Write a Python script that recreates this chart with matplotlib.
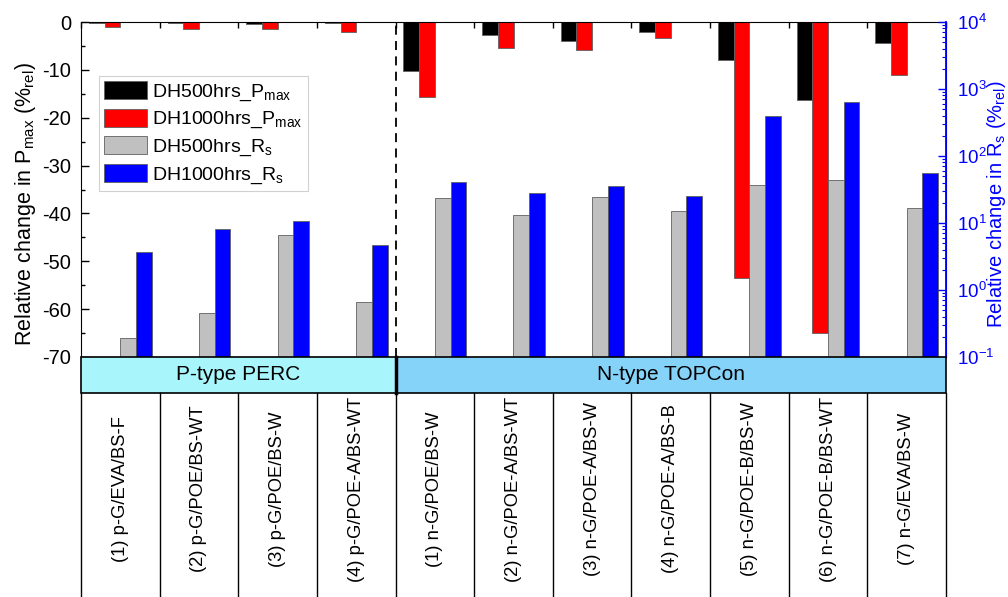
import numpy as np
import matplotlib as mpl
import matplotlib.pyplot as plt
import matplotlib.patches as ptc

mpl.rcParams["font.family"] = ["Liberation Sans", "DejaVu Sans"]
mpl.rcParams["mathtext.fontset"] = "custom"
mpl.rcParams["mathtext.rm"] = "Liberation Sans"
mpl.rcParams["mathtext.it"] = "Liberation Sans:italic"
mpl.rcParams["mathtext.bf"] = "Liberation Sans:bold"
mpl.rcParams["axes.unicode_minus"] = False

# data
labels = ["(1) p-G/EVA/BS-F", "(2) p-G/POE/BS-WT", "(3) p-G/POE/BS-W",
          "(4) p-G/POE-A/BS-WT", "(1) n-G/POE/BS-W", "(2) n-G/POE-A/BS-WT",
          "(3) n-G/POE-A/BS-W", "(4) n-G/POE-A/BS-B", "(5) n-G/POE-B/BS-W",
          "(6) n-G/POE-B/BS-WT", "(7) n-G/EVA/BS-W"]
groups = ["P-type PERC", "N-type TOPCon"]
group_sizes = [4, 7]

pmax_500 = [-0.2, -0.3, -0.4, -0.3, -10.2, -2.7, -4.0, -2.0, -8.0, -16.2, -4.3]
pmax_1000 = [-1.0, -1.5, -1.5, -2.0, -15.6, -5.4, -5.9, -3.4, -53.4, -65.0, -11.0]
rs_500 = [0.195, 0.45, 6.6, 0.66, 23.4, 13.3, 24.5, 15.3, 37.5, 44.2, 16.8]
rs_1000 = [3.7, 8.2, 10.7, 4.7, 40.6, 28.4, 35.9, 25.7, 396, 630, 56]

W, H = 1008, 597
L, R, T, B = 81, 946, 22, 357  # axes box in pixels

fig = plt.figure(figsize=(W / 100, H / 100), dpi=100)
ax = fig.add_axes([L / W, 1 - B / H, (R - L) / W, (B - T) / H])
ax2 = ax.twinx()

x = np.arange(len(labels))
w = 0.2
edge = dict(edgecolor="#606060", linewidth=0.6)

b1 = ax.bar(x - 1.5 * w, pmax_500, w, color="black", label="DH500hrs_P$_{\\mathrm{max}}$", **edge)
b2 = ax.bar(x - 0.5 * w, pmax_1000, w, color="#ff0000", label="DH1000hrs_P$_{\\mathrm{max}}$", **edge)
b3 = ax2.bar(x + 0.5 * w, np.array(rs_500) - 0.1, w, bottom=0.1, color="#c0c0c0",
             label="DH500hrs_R$_{\\mathrm{s}}$", **edge)
b4 = ax2.bar(x + 1.5 * w, np.array(rs_1000) - 0.1, w, bottom=0.1, color="#0000ff",
             label="DH1000hrs_R$_{\\mathrm{s}}$", **edge)

ax.set_xlim(-0.5, len(labels) - 0.5)
ax.set_ylim(-70, 0)
ax.set_yticks(np.arange(-70, 1, 10))
ax.set_yticks(np.arange(-65, 0, 10), minor=True)
ax.tick_params(axis="y", direction="in", length=6, width=1, labelsize=14.5, pad=7)
ax.tick_params(axis="y", which="minor", direction="in", length=3, width=1)
ax.set_xticks(np.arange(-0.5, len(labels), 1))
ax.tick_params(axis="x", bottom=False, labelbottom=False, top=True,
               direction="in", length=4, width=1)
ax.axvline(3.5, color="black", lw=1.3, ls=(0, (5, 3.5)))
ax.set_ylabel("Relative change in P$_{\\mathrm{max}}$ (%$_{\\mathrm{rel}}$)", fontsize=15.5)
ax.yaxis.set_label_coords(-(L - 38) / (R - L), (B - 204) / (B - T))

ax2.set_yscale("log")
ax2.set_ylim(0.1, 1e4)
ax2.tick_params(axis="y", which="both", direction="in", colors="#0000ff",
                labelsize=13.5, pad=8)
ax2.tick_params(axis="y", which="major", length=6, width=1)
ax2.tick_params(axis="y", which="minor", length=3, width=0.8)
ax2.yaxis.set_minor_locator(mpl.ticker.LogLocator(base=10, subs=np.arange(2, 10)))
ax2.spines["right"].set_color("#0000ff")
ax2.spines["right"].set_linewidth(1.3)
for s in ["left", "top", "bottom"]:
    ax2.spines[s].set_visible(False)
ax2.set_ylabel("Relative change in R$_{\\mathrm{s}}$ (%$_{\\mathrm{rel}}$)", fontsize=14.5,
               color="#0000ff", rotation=90)
ax2.yaxis.set_label_coords((985 - L) / (R - L), (B - 204) / (B - T))

leg = ax2.legend(handles=[b1, b2, b3, b4], loc="upper left",
                 bbox_to_anchor=((99 - L) / (R - L), (B - 76) / (B - T)),
                 fontsize=14, handlelength=2.2, handleheight=1.05,
                 labelspacing=0.3, handletextpad=0.3, borderpad=0.25,
                 borderaxespad=0, fancybox=False, framealpha=1)
leg.get_frame().set_edgecolor("#d0d0d0")
leg.get_frame().set_linewidth(0.8)

# group band and label table beneath the axes
tab = fig.add_axes([L / W, 0, (R - L) / W, (H - B) / H])
tab.set_xlim(-0.5, len(labels) - 0.5)
tab.set_ylim(0, H - B)
tab.set_axis_off()
band_lo = H - 393
colors = ["#a8f6fc", "#86d3fa"]
start = -0.5
for name, n, c in zip(groups, group_sizes, colors):
    tab.add_patch(ptc.Rectangle((start, band_lo), n, H - B - band_lo, facecolor=c,
                                edgecolor="black", lw=1.2, clip_on=False))
    tab.text(start + n / 2, (band_lo + H - B) / 2, name, ha="center", va="center",
             fontsize=15)
    start += n
tab.plot([3.5, 3.5], [band_lo, H - B], color="black", lw=2.5, clip_on=False)
for k in range(len(labels) + 1):
    tab.plot([k - 0.5, k - 0.5], [0, band_lo], color="black", lw=1, clip_on=False)
for i, lab in enumerate(labels):
    tab.text(i, H - 489, lab, rotation=90, ha="center", va="center", fontsize=13.2)

fig.savefig("out.png", dpi=100)
